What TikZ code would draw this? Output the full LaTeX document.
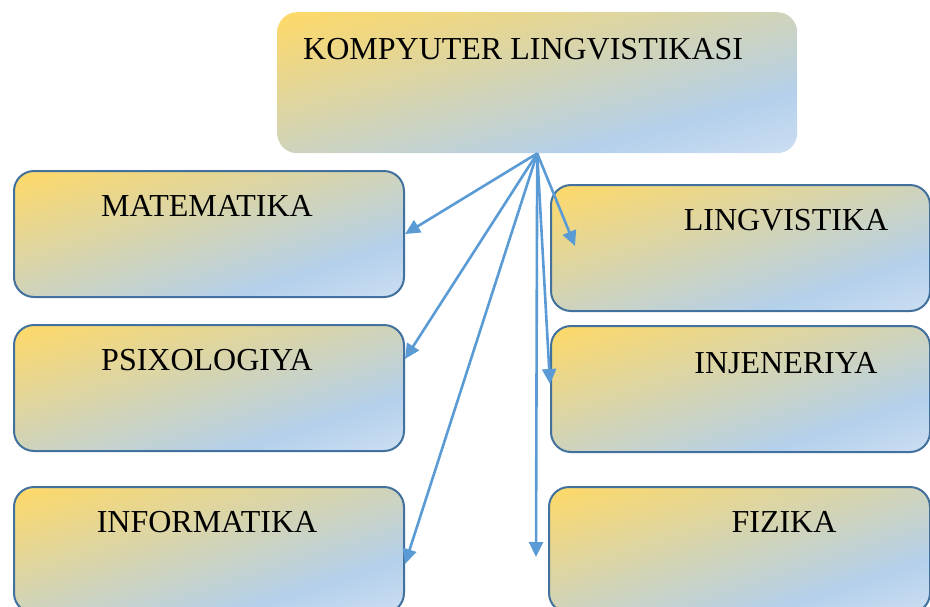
\documentclass[tikz,border=0pt]{standalone}
\usepackage{fontspec}
\setmainfont{Liberation Serif}
\usetikzlibrary{arrows.meta,calc}
\definecolor{bord}{RGB}{65,113,156}
\definecolor{arr}{RGB}{91,155,213}
\pgfdeclarefunctionalshading{wf}{\pgfpoint{-50bp}{-50bp}}{\pgfpoint{50bp}{50bp}}{}{
  sub 50 add 100 div
  dup 0 lt {pop 0} if
  dup 1 gt {pop 1} if
  dup 0.78 lt
  {0.78 div dup -0.294 mul 1 add exch dup -0.035 mul 0.851 add exch 0.522 mul 0.4 add}
  {0.78 sub 0.22 div dup 0.094 mul 0.706 add exch dup 0.055 mul 0.816 add exch 0.027 mul 0.922 add}
  ifelse
}
\tikzset{
  boxbase/.style={rectangle, rounded corners=20pt, inner sep=0pt, anchor=north west, shading=wf},
  subbox/.style={boxbase, draw=bord, line width=2pt, minimum width=390pt, minimum height=126pt},
  rsubbox/.style={boxbase, draw=bord, line width=2pt, minimum width=379pt, minimum height=126pt},
  lbl/.style={font=\fontsize{32}{38}\selectfont, inner sep=0pt, anchor=base},
  conn/.style={draw=arr, line width=2.6pt, -{Triangle[length=15pt,width=14pt]}}
}
\begin{document}
\begin{tikzpicture}[x=1pt,y=-1pt]
\path[use as bounding box] (0,0) rectangle (930,606);
\clip (0,0) rectangle (930,606);
% top box
\node[boxbase, minimum width=520pt, minimum height=141pt] (top) at (277,12) {};
\node[lbl, anchor=base west] (toplbl) at (303,59) {KOMPYUTER LINGVISTIKASI};
% left boxes
\node[subbox] (mat) at (13,170) {};
\node[subbox] (psi) at (13,324) {};
\node[subbox] (inf) at (13,486) {};
% right boxes
\node[rsubbox] (lin) at (550,184) {};
\node[rsubbox] (inj) at (550,325) {};
\node[rsubbox, minimum width=381pt] (fiz) at (548,486) {};
% labels
\node[lbl] (matlbl) at (207,216) {MATEMATIKA};
\node[lbl] (psilbl) at (207,370) {PSIXOLOGIYA};
\node[lbl] (inflbl) at (207,532) {INFORMATIKA};
\node[lbl] (linlbl) at (786,230) {LINGVISTIKA};
\node[lbl] (injlbl) at (786,373) {INJENERIYA};
\node[lbl] (fizlbl) at (784,532) {FIZIKA};
% connectors
\coordinate (apex) at (top.south);
\coordinate (downend) at (536,557);
\draw[conn] (apex) -- (mat.east);
\draw[conn] (apex) -- ($(psi.north east)+(0,35)$);
\draw[conn] (apex) -- ($(inf.north east)+(0,78)$);
\draw[conn] (apex) -- ($(lin.north west)+(25,62)$);
\draw[conn] (apex) -- ($(inj.north west)+(0,59)$);
\draw[conn] (apex) -- (downend);
\end{tikzpicture}
\end{document}
